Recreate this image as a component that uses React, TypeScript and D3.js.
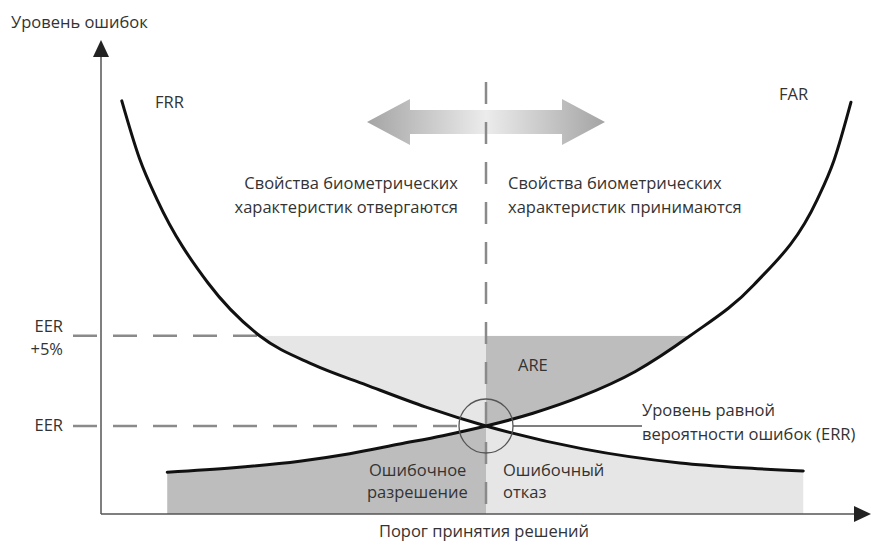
import * as d3 from "d3";

// threshold position (x) and error level (y), both in arbitrary 0..100 units
const frrPoints: [number, number][] = [
  [2.7, 93.9], [5.0, 80.8], [7.3, 71.4], [13.9, 52.5], [20.6, 40.5],
  [27.5, 34.0], [34.5, 29.3], [42.2, 24.3], [50.0, 20.0], [62.6, 14.8],
  [75.2, 11.6], [83.2, 10.5], [91.2, 9.8],
];
const farPoints: [number, number][] = [
  [8.6, 9.5], [17.2, 10.5], [25.8, 12.0], [32.3, 13.7], [38.8, 15.9],
  [44.4, 17.8], [50.0, 20.0], [56.1, 22.9], [62.2, 26.6], [69.4, 32.4],
  [76.5, 40.5], [84.8, 52.1], [93.0, 71.4], [95.2, 80.4], [97.4, 93.6],
];
const threshold = 50;
const eer = 20;
const eerPlus = 40.5;
// where each curve meets the EER+5% level
const frrAtPlus = 20.6;
const farAtPlus = 76.5;

const leftLines = ["Свойства биометрических", "характеристик отвергаются"];
const rightLines = ["Свойства биометрических", "характеристик принимаются"];

const W = 871, H = 546;
const FONT = "'Open Sans', 'Noto Sans', sans-serif";
const TXT = "#333";
const DARK = "#bdbdbd";
const LIGHT = "#e6e6e6";
const DASH = "#8a8a8a";

export default function App() {
  const x = d3.scaleLinear().domain([0, 100]).range([101, 871]);
  const y = d3.scaleLinear().domain([0, 100]).range([514, 74]);

  const line = d3
    .line<[number, number]>()
    .x((d) => x(d[0]))
    .y((d) => y(d[1]))
    .curve(d3.curveMonotoneX);

  const areaTo = (level: number) =>
    d3
      .area<[number, number]>()
      .x((d) => x(d[0]))
      .y0(y(level))
      .y1((d) => y(d[1]))
      .curve(d3.curveMonotoneX);

  const tx = x(threshold);
  const yE = y(eer);
  const yE5 = y(eerPlus);
  const x0 = x(0);
  const y0 = y(0);

  return (
    <svg
      width={W}
      height={H}
      style={{ position: "absolute", left: 0, top: 0, background: "#fff" }}
      fontFamily={FONT}
    >
      <defs>
        <clipPath id="clipUL">
          <rect x={x(frrAtPlus) - 2} y={yE5} width={tx - x(frrAtPlus) + 2} height={y0 - yE5} />
        </clipPath>
        <clipPath id="clipUR">
          <rect x={tx} y={yE5} width={x(farAtPlus) - tx + 2} height={y0 - yE5} />
        </clipPath>
        <clipPath id="clipL">
          <rect x={0} y={0} width={tx} height={y0} />
        </clipPath>
        <clipPath id="clipR">
          <rect x={tx} y={0} width={W - tx} height={y0} />
        </clipPath>
        <linearGradient id="dblArrow" x1="0%" x2="100%" y1="0%" y2="0%">
          <stop offset="0%" stopColor="#a4a4a4" />
          <stop offset="50%" stopColor="#ececec" />
          <stop offset="100%" stopColor="#a4a4a4" />
        </linearGradient>
      </defs>

      {/* shaded regions */}
      <path d={areaTo(0)(farPoints) || ""} fill={DARK} clipPath="url(#clipL)" />
      <path d={areaTo(0)(frrPoints) || ""} fill={LIGHT} clipPath="url(#clipR)" />
      <path d={areaTo(eerPlus)(frrPoints) || ""} fill={LIGHT} clipPath="url(#clipUL)" />
      <path d={areaTo(eerPlus)(farPoints) || ""} fill={DARK} clipPath="url(#clipUR)" />

      {/* double arrow */}
      <polygon
        points="367,122 410,99 410,110 562,110 562,99 605,122 562,145 562,134 410,134 410,145"
        fill="url(#dblArrow)"
      />

      {/* dashed guides */}
      <line x1={73} x2={x(frrAtPlus)} y1={yE5} y2={yE5} stroke={DASH} strokeWidth={2.5} strokeDasharray="24 16" />
      <line x1={73} x2={458} y1={yE} y2={yE} stroke={DASH} strokeWidth={2.5} strokeDasharray="24 16" />
      <line x1={tx} x2={tx} y1={82} y2={y0} stroke={DASH} strokeWidth={2.5} strokeDasharray="22 18" />

      {/* axes */}
      <line x1={x0} x2={x0} y1={52} y2={y0} stroke="#555" strokeWidth={1.5} />
      <line x1={x0} x2={860} y1={y0} y2={y0} stroke="#555" strokeWidth={1.5} />
      <polygon points={`${x0},40 ${x0 - 8},57 ${x0 + 8},57`} fill="#222" />
      <polygon points={`871,${y0} 854,${y0 - 8} 854,${y0 + 8}`} fill="#222" />

      {/* curves */}
      <path d={line(frrPoints) || ""} fill="none" stroke="#111" strokeWidth={3} strokeLinecap="round" />
      <path d={line(farPoints) || ""} fill="none" stroke="#111" strokeWidth={3} strokeLinecap="round" />

      {/* EER marker */}
      <circle cx={tx} cy={yE} r={27} fill="none" stroke="#555" strokeWidth={1.3} />
      <line x1={tx + 27} x2={642} y1={yE} y2={yE} stroke="#555" strokeWidth={1.3} />

      {/* text */}
      <g fill={TXT} fontSize={16.5}>
        <text x={11} y={28}>Уровень ошибок</text>
        <text x={155} y={108}>FRR</text>
        <text x={779} y={100}>FAR</text>
        {leftLines.map((t, i) => (
          <text key={"l" + i} x={458} y={189 + i * 24} textAnchor="end">{t}</text>
        ))}
        {rightLines.map((t, i) => (
          <text key={"r" + i} x={508} y={189 + i * 24}>{t}</text>
        ))}
        <text x={63} y={332} textAnchor="end">EER</text>
        <text x={63} y={355} textAnchor="end">+5%</text>
        <text x={63} y={431} textAnchor="end">EER</text>
        <text x={518} y={371}>ARE</text>
        <text x={369} y={476}>Ошибочное</text>
        <text x={367} y={498}>разрешение</text>
        <text x={503} y={476}>Ошибочный</text>
        <text x={503} y={498}>отказ</text>
        <text x={642} y={416}>Уровень равной</text>
        <text x={642} y={440}>вероятности ошибок (ERR)</text>
        <text x={484} y={537} textAnchor="middle">Порог принятия решений</text>
      </g>
    </svg>
  );
}
